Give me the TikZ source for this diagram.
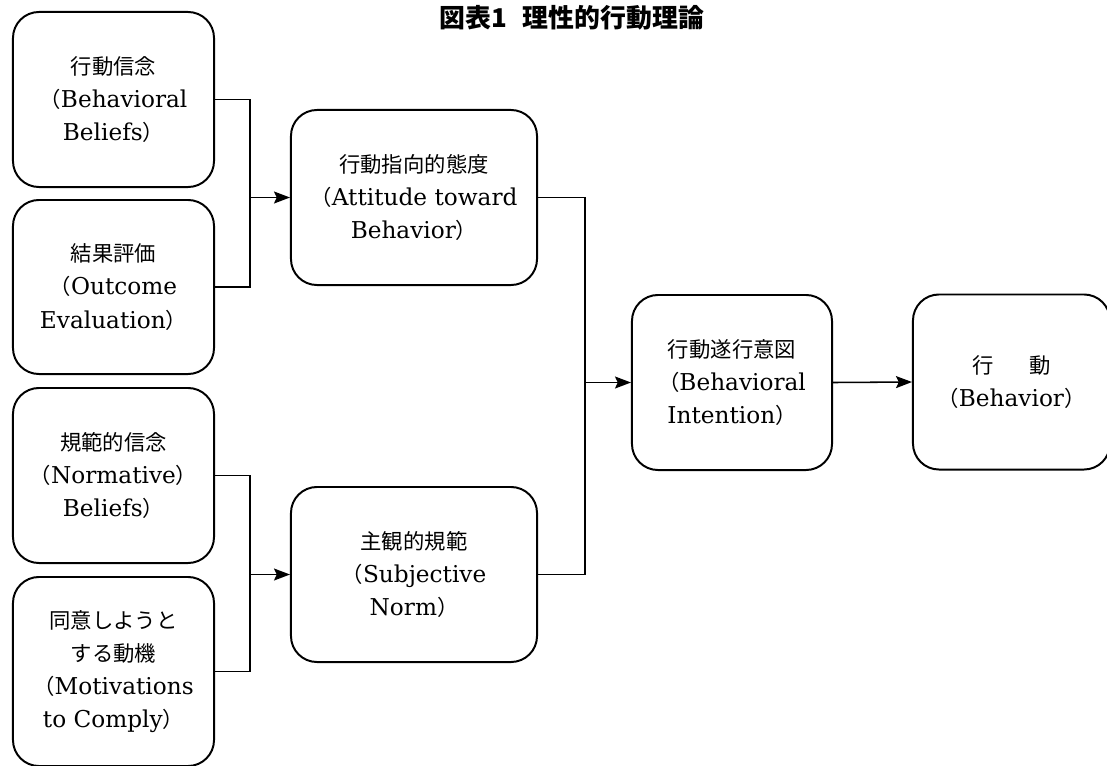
\documentclass[tikz,border=0pt]{standalone}
\usepackage{fontspec}
\setmainfont{DejaVu Serif}
\newfontfamily\jp{Noto Sans CJK JP}[Scale=0.92]
\usetikzlibrary{arrows.meta}
\newcommand{\lpar}{{\jp （}}
\newcommand{\rpar}{{\jp ）}}

\begin{document}
\begin{tikzpicture}[x=0.025cm, y=-0.025cm, line width=1.1pt,
    box/.style={draw, line width=1.4pt, rounded corners=0.65cm, align=center,
      inner sep=0pt, minimum width=5.025cm, minimum height=4.375cm,
      font=\fontsize{16.5}{23.6}\selectfont},
    arr/.style={-{Stealth[length=4mm, width=3mm, inset=0.7mm]}}]
    \path[use as bounding box, clip] (0,0) rectangle (1107,765);

    % title
    \node (title) at (572,31) [anchor=south, inner sep=0pt] {\fontsize{20}{22}\jp\bfseries 図表1\hspace{0.6em}理性的行動理論};

    % antecedents
    \node (bel) at (113.5,99.5) [box] {{\jp 行動信念}\\\lpar Behavioral\\Beliefs\rpar};
    \node (eva) at (113.5,287) [box, minimum height=4.35cm] {{\jp 結果評価}\\\lpar Outcome\\Evaluation\rpar};
    \node (nbel) at (113.5,475.5) [box] {{\jp 規範的信念}\\\lpar Normative\rpar\\Beliefs\rpar};
    \node (mot) at (113.5,671.5) [box, minimum height=4.725cm] {{\jp 同意しようと}\\{\jp する動機}\\\lpar Motivations\\to Comply\rpar};

    % attitude and norm
    \node (att) at (414,197.5) [box, minimum width=6.15cm] {{\jp 行動指向的態度}\\\lpar Attitude toward\\Behavior\rpar};
    \node (sub) at (414,574.5) [box, minimum width=6.15cm] {{\jp 主観的規範}\\\lpar Subjective\\Norm\rpar};

    % intention and behaviour
    \node (int) at (732,382.5) [box, minimum width=5cm] {{\jp 行動遂行意図}\\\lpar Behavioral\\Intention\rpar};
    \node (beh) at (1011.5,382) [box, minimum width=4.925cm] {{\jp 行\hspace{1.7em}動}\\\lpar Behavior\rpar};

    \coordinate (ja) at (250,197.5);
    \coordinate (jc) at (250,574.5);
    \coordinate (jb) at (585,382.5);

    \draw (bel.east) -| (ja) |- (eva.east);
    \draw[arr] (ja) -- (att.west);
    \draw (nbel.east) -| (jc) |- (mot.east);
    \draw[arr] (jc) -- (sub.west);
    \draw (att.east) -| (jb) |- (sub.east);
    \draw[arr] (jb) -- (int.west);
    \draw[arr] (int.east) -- (beh.west);
\end{tikzpicture}
\end{document}
